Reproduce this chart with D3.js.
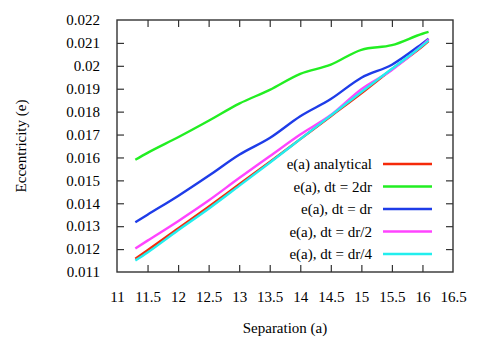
<!DOCTYPE html>
<html>
<head>
<meta charset="utf-8">
<script src="https://cdn.jsdelivr.net/npm/d3@7"></script>
<style>
  body { margin: 0; background: #fff; }
  svg { display: block; }
  svg text { font-family: "Liberation Serif", "Times New Roman", Times, "Nimbus Roman", "Nimbus Roman No9 L", "Noto Serif", "DejaVu Serif", serif; font-size: 15px; }
</style>
</head>
<body>
<div id="vis-cont"></div>
<script>
// separation values and eccentricity per run
var sep = [11.3, 11.5, 12, 12.5, 13, 13.5, 14, 14.5, 15, 15.5, 16, 16.1];
var analytical = [0.01158, 0.01195, 0.01290, 0.01385, 0.01483, 0.01580, 0.01680, 0.01780, 0.01880, 0.01985, 0.02085, 0.02108];
var dt2dr =      [0.01590, 0.01620, 0.01688, 0.01760, 0.01835, 0.01895, 0.01965, 0.02005, 0.02070, 0.02090, 0.02140, 0.02148];
var dtdr =       [0.01317, 0.01350, 0.01432, 0.01520, 0.01612, 0.01685, 0.01780, 0.01855, 0.01948, 0.02005, 0.02098, 0.02118];
var dtHalf =     [0.01203, 0.01237, 0.01322, 0.01412, 0.01510, 0.01605, 0.01700, 0.01785, 0.01898, 0.01982, 0.02090, 0.02115];
var dtQuarter =  [0.01150, 0.01185, 0.01282, 0.01376, 0.01476, 0.01577, 0.01680, 0.01783, 0.01886, 0.01987, 0.02088, 0.02110];

var seriesNames = ["e(a) analytical", "e(a), dt = 2dr", "e(a), dt = dr", "e(a), dt = dr/2", "e(a), dt = dr/4"];
var seriesColors = ["#f52a0a", "#22ee22", "#1e3ce8", "#ff44ff", "#22eeee"];
var seriesValues = [analytical, dt2dr, dtdr, dtHalf, dtQuarter];

var xTicks = [11, 11.5, 12, 12.5, 13, 13.5, 14, 14.5, 15, 15.5, 16, 16.5];
var yTicks = [0.011, 0.012, 0.013, 0.014, 0.015, 0.016, 0.017, 0.018, 0.019, 0.02, 0.021, 0.022];

var W = 485, H = 340;
var m = {left: 117, right: 32, top: 20, bottom: 68};
var iw = W - m.left - m.right, ih = H - m.top - m.bottom;

var svg = d3.select("#vis-cont").append("svg").attr("width", W).attr("height", H);

var x = d3.scaleLinear().domain([11, 16.5]).range([0, iw]);
var y = d3.scaleLinear().domain([0.011, 0.022]).range([ih, 0]);

var g = svg.append("g").attr("transform", "translate(" + m.left + "," + m.top + ")");

var tl = 7;
var axisColor = "#333";

// axes with inward ticks, mirrored on top/right
var xb = g.append("g").attr("transform", "translate(0," + ih + ")")
  .call(d3.axisBottom(x).tickValues(xTicks).tickSize(-tl).tickPadding(tl + 12).tickFormat(d3.format("")));
var xt = g.append("g")
  .call(d3.axisTop(x).tickValues(xTicks).tickSize(-tl).tickFormat(""));
var yl = g.append("g")
  .call(d3.axisLeft(y).tickValues(yTicks).tickSize(-tl).tickPadding(tl + 10).tickFormat(d3.format("")));
var yr = g.append("g").attr("transform", "translate(" + iw + ",0)")
  .call(d3.axisRight(y).tickValues(yTicks).tickSize(-tl).tickFormat(""));

[xb, xt, yl, yr].forEach(function(a) {
  a.attr("font-family", null).attr("font-size", null);
  a.select(".domain").remove();
  a.selectAll(".tick line").attr("stroke", axisColor).attr("stroke-width", 1.2);
  a.selectAll(".tick text").attr("fill", "#000");
});
// drop end ticks that fall on the border
[xb, xt].forEach(function(a) {
  a.selectAll(".tick line").filter(function(d) { return d === 11 || d === 16.5; }).remove();
});
[yl, yr].forEach(function(a) {
  a.selectAll(".tick line").filter(function(d) { return d === 0.011 || d === 0.022; }).remove();
});

g.append("rect").attr("width", iw).attr("height", ih)
  .attr("fill", "none").attr("stroke", axisColor).attr("stroke-width", 1.4);

// curves
var line = d3.line()
  .x(function(d) { return x(d[0]); })
  .y(function(d) { return y(d[1]); })
  .curve(d3.curveMonotoneX);

seriesValues.forEach(function(vals, i) {
  g.append("path")
    .datum(sep.map(function(s, j) { return [s, vals[j]]; }))
    .attr("fill", "none")
    .attr("stroke", seriesColors[i])
    .attr("stroke-width", 2.4)
    .attr("d", line);
});

// legend
var lg = g.append("g").attr("transform", "translate(" + (372 - m.left) + "," + (164 - m.top) + ")");
seriesNames.forEach(function(name, i) {
  var row = lg.append("g").attr("transform", "translate(0," + (i * 22.5) + ")");
  row.append("text").attr("x", 0).attr("y", 5).attr("text-anchor", "end").text(name);
  row.append("line").attr("x1", 11).attr("x2", 60).attr("y1", 0).attr("y2", 0)
    .attr("stroke", seriesColors[i]).attr("stroke-width", 2.4);
});

// axis titles
svg.append("text").attr("x", m.left + iw / 2).attr("y", 333).attr("text-anchor", "middle")
  .text("Separation (a)");
svg.append("text").attr("transform", "translate(26," + (m.top + ih / 2) + ") rotate(-90)")
  .attr("text-anchor", "middle").text("Eccentricity (e)");
</script>
</body>
</html>
